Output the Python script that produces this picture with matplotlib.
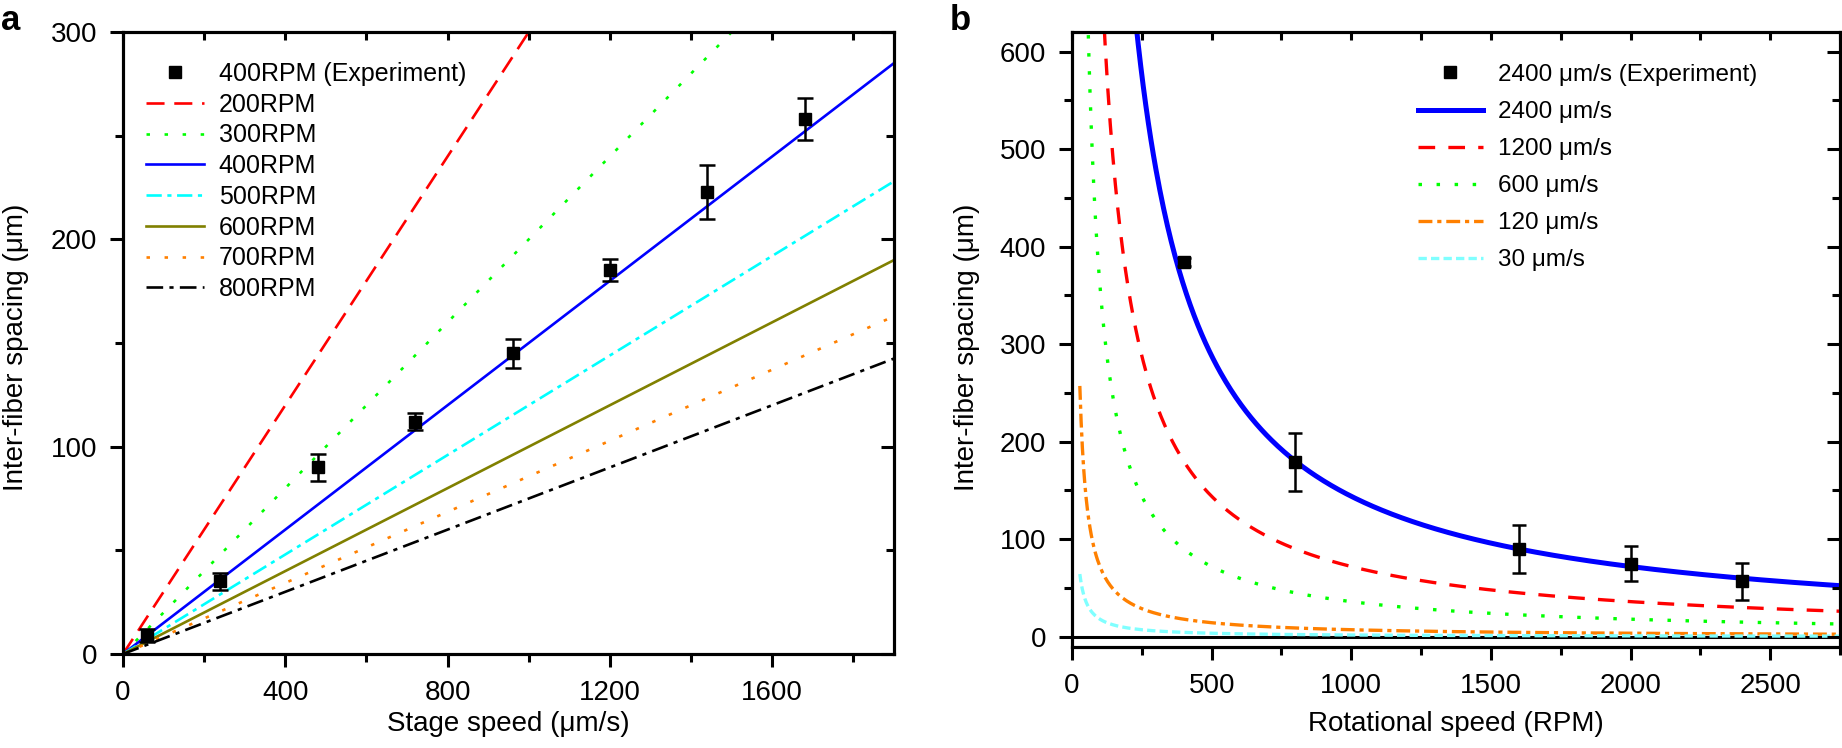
import numpy as np
import matplotlib
matplotlib.use('Agg')
import matplotlib.pyplot as plt
import matplotlib.ticker as mticker

plt.rcParams['font.family'] = ['Liberation Sans', 'DejaVu Sans']
plt.rcParams['lines.scale_dashes'] = False
plt.rcParams['axes.linewidth'] = 2.2

# -----------------------------------------------------------------------------
# data
# -----------------------------------------------------------------------------
# panel a: spacing vs stage speed, experiment at 400 RPM
exp_speed = [60, 240, 480, 720, 960, 1200, 1440, 1680]
exp_spacing = [9, 35, 90, 112, 145, 185, 223, 258]
exp_err = [3, 4, 6.5, 4, 7, 5.3, 13, 10]

# model lines, spacing = stage speed / (RPM / 60)
line_rpm = [200, 300, 400, 500, 600, 700, 800]
line_speed = [0, 1900]

# panel b: spacing vs rotational speed, experiment at 2400 um/s
exp_rpm = [400, 800, 1600, 2000, 2400]
exp_spacing_b = [384, 179, 90, 75, 57]
exp_err_b = [4, 30, 25, 18, 19]

curve_speed = [2400, 1200, 600, 120, 30]
curve_rpm_range = [28, 2750]

# -----------------------------------------------------------------------------
# styles
# -----------------------------------------------------------------------------
a_styles = [
    dict(color='#FF0000', dashes=(13, 7)),
    dict(color='#00FF00', dashes=(2.5, 10.5)),
    dict(color='#0000FF', linestyle='-'),
    dict(color='#00FFFF', dashes=(11, 4, 3, 4)),
    dict(color='#808000', linestyle='-'),
    dict(color='#FF8000', dashes=(2.5, 10.5)),
    dict(color='#000000', dashes=(12, 4.5, 3, 4.5)),
]
b_styles = [
    dict(color='#0000FF', linestyle='-', lw=3.6),
    dict(color='#FF0000', dashes=(12, 9.5), lw=2.4),
    dict(color='#00FF00', dashes=(2.5, 10.5), lw=2.4),
    dict(color='#FF8000', dashes=(10, 3.5, 3, 3.5), lw=2.4),
    dict(color='#80FFFF', dashes=(6, 3), lw=2.4),
]


def style_axes(ax, xmaj, xmin, ymaj, ymin):
    """bottom/left ticks outward, mirrored top/right ticks inward"""
    ax.xaxis.set_major_locator(mticker.MultipleLocator(xmaj))
    ax.xaxis.set_minor_locator(mticker.MultipleLocator(xmin))
    ax.yaxis.set_major_locator(mticker.MultipleLocator(ymaj))
    ax.yaxis.set_minor_locator(mticker.MultipleLocator(ymin))
    ax.tick_params(which='both', direction='out', width=2.2, labelsize=20,
                   top=False, right=False)
    ax.tick_params(which='major', length=9.5, pad=9)
    ax.tick_params(which='minor', length=5.5)

    axt = ax.twiny()
    axt.set_xlim(ax.get_xlim())
    axt.xaxis.set_major_locator(mticker.MultipleLocator(xmaj))
    axt.xaxis.set_minor_locator(mticker.MultipleLocator(xmin))
    axt.tick_params(axis='x', which='both', direction='in', width=2.2,
                    labeltop=False, length=6)

    axr = ax.twinx()
    axr.set_ylim(ax.get_ylim())
    axr.yaxis.set_major_locator(mticker.MultipleLocator(ymaj))
    axr.yaxis.set_minor_locator(mticker.MultipleLocator(ymin))
    axr.tick_params(axis='y', which='major', direction='in', width=2.2,
                    labelright=False, length=9.5)
    axr.tick_params(axis='y', which='minor', direction='in', width=2.2,
                    length=5.5)


fig = plt.figure(figsize=(18.42, 7.48), dpi=100)
W, H = 1842.0, 748.0
ax1 = fig.add_axes([123 / W, 1 - 654 / H, (894 - 123) / W, (654 - 32) / H])
ax2 = fig.add_axes([1072 / W, 1 - 647 / H, (1840 - 1072) / W, (647 - 32) / H])

# -----------------------------------------------------------------------------
# panel a
# -----------------------------------------------------------------------------
ax1.errorbar(exp_speed, exp_spacing, yerr=exp_err, fmt='none', ecolor='k',
             elinewidth=1.8, capsize=5.5, capthick=1.8, zorder=5)
ax1.plot(exp_speed, exp_spacing, 's', color='k', ms=9, zorder=6,
         label='400RPM (Experiment)')
for rpm, st in zip(line_rpm, a_styles):
    sp = [v * 60.0 / rpm for v in line_speed]
    ax1.plot(line_speed, sp, lw=1.9, label='%dRPM' % rpm, **st)

ax1.set_xlim(0, 1900)
ax1.set_ylim(0, 300)
ax1.legend(loc='upper left', bbox_to_anchor=(0.03, 0.952), frameon=False,
           fontsize=18, handlelength=2.3, handletextpad=0.6,
           labelspacing=0.27, borderpad=0, borderaxespad=0)
style_axes(ax1, 400, 200, 100, 50)

# -----------------------------------------------------------------------------
# panel b
# -----------------------------------------------------------------------------
ax2.axhline(0, color='k', lw=2.2, zorder=1)
rpm = np.linspace(curve_rpm_range[0], curve_rpm_range[1], 600)
curve_handles = []
for v, st in zip(curve_speed, b_styles):
    h, = ax2.plot(rpm, v * 60.0 / rpm, label='%d μm/s' % v, zorder=3, **st)
    curve_handles.append(h)
ax2.errorbar(exp_rpm, exp_spacing_b, yerr=exp_err_b, fmt='none', ecolor='k',
             elinewidth=1.8, capsize=5, capthick=1.8, zorder=5)
pts, = ax2.plot(exp_rpm, exp_spacing_b, 's', color='k', ms=9, zorder=6,
                label='2400 μm/s (Experiment)')

ax2.set_xlim(0, 2750)
ax2.set_ylim(-10.5, 620)
ax2.legend(handles=[pts] + curve_handles, loc='upper left',
           bbox_to_anchor=(0.45, 0.948), frameon=False, fontsize=17.5,
           handlelength=2.7, handletextpad=0.6, labelspacing=0.62,
           borderpad=0, borderaxespad=0)
style_axes(ax2, 500, 250, 100, 50)

# -----------------------------------------------------------------------------
# labels
# -----------------------------------------------------------------------------
fig.text(16 / W, 1 - 347 / H, 'Inter-fiber spacing (μm)', rotation=90,
         ha='center', va='center', fontsize=20)
fig.text(967 / W, 1 - 347 / H, 'Inter-fiber spacing (μm)', rotation=90,
         ha='center', va='center', fontsize=20)
fig.text(508 / W, 1 - 724 / H, 'Stage speed (μm/s)', ha='center',
         va='center', fontsize=20)
fig.text(1456 / W, 1 - 724 / H, 'Rotational speed (RPM)', ha='center',
         va='center', fontsize=20)
fig.text(1 / W, 1 - 4 / H, 'a', ha='left', va='top', fontsize=25,
         fontweight='bold')
fig.text(950 / W, 1 - 4 / H, 'b', ha='left', va='top', fontsize=25,
         fontweight='bold')

fig.savefig('out.png', dpi=100)
